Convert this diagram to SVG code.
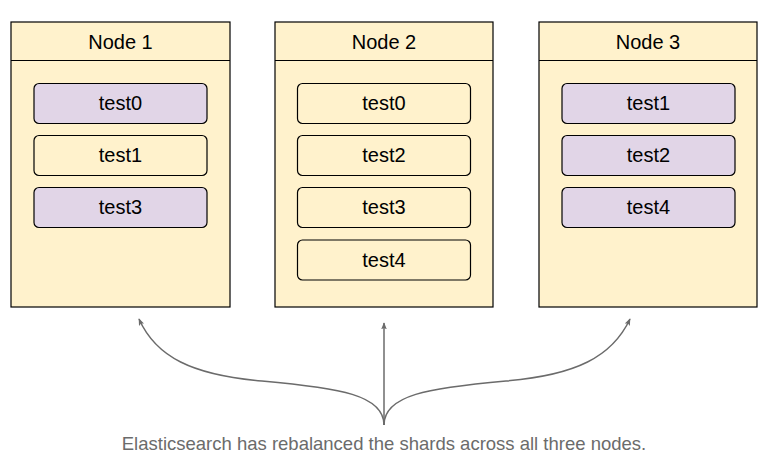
<svg xmlns="http://www.w3.org/2000/svg" width="770" height="467" viewBox="0 0 770 467">
<style>
.node{fill:#fff2cc;stroke:#000;stroke-width:1.2}
.hdr{fill:none;stroke:#000;stroke-width:1.2}
.shard{fill:#fff2cc;stroke:#000;stroke-width:1.2}
.shard.p{fill:#e1d5e7}
.t{font-family:"Liberation Sans",Arial,sans-serif;font-size:20px;fill:#000;text-anchor:middle}
.s{font-family:"Liberation Sans",Arial,sans-serif;font-size:20px;fill:#000;text-anchor:middle}
.arr{fill:none;stroke:#6b6b6b;stroke-width:1.5;marker-end:url(#ah)}
.cap{font-family:"Liberation Sans",Arial,sans-serif;font-size:18.5px;fill:#6b6b6b;text-anchor:middle}
</style>
<defs>
<marker id="ah" viewBox="0 0 10 10" refX="9" refY="5" markerWidth="7" markerHeight="7" orient="auto" markerUnits="userSpaceOnUse">
<path d="M0,1 L10,5 L0,9 L2,5 Z" fill="#6b6b6b"/>
</marker>
</defs>
<rect width="770" height="467" fill="#fff"/>
<g id="node1">
<rect class="node" x="11" y="22" width="219" height="285"/>
<line class="hdr" x1="11" y1="60.5" x2="230" y2="60.5"/>
<text class="t" x="120.5" y="49">Node 1</text>
<g id="node1-test0"><rect class="shard p" x="34" y="83.5" width="173" height="40" rx="5"/><text class="s" x="120.5" y="110">test0</text></g>
<g id="node1-test1"><rect class="shard" x="34" y="135.5" width="173" height="40" rx="5"/><text class="s" x="120.5" y="162">test1</text></g>
<g id="node1-test3"><rect class="shard p" x="34" y="187.5" width="173" height="40" rx="5"/><text class="s" x="120.5" y="214">test3</text></g>
</g>
<g id="node2">
<rect class="node" x="275" y="22" width="218" height="285"/>
<line class="hdr" x1="275" y1="60.5" x2="493" y2="60.5"/>
<text class="t" x="384" y="49">Node 2</text>
<g id="node2-test0"><rect class="shard" x="297.5" y="83.5" width="173" height="40" rx="5"/><text class="s" x="384" y="110">test0</text></g>
<g id="node2-test2"><rect class="shard" x="297.5" y="135.5" width="173" height="40" rx="5"/><text class="s" x="384" y="162">test2</text></g>
<g id="node2-test3"><rect class="shard" x="297.5" y="187.5" width="173" height="40" rx="5"/><text class="s" x="384" y="214">test3</text></g>
<g id="node2-test4"><rect class="shard" x="297.5" y="240" width="173" height="40" rx="5"/><text class="s" x="384" y="266.5">test4</text></g>
</g>
<g id="node3">
<rect class="node" x="539" y="22" width="218" height="285"/>
<line class="hdr" x1="539" y1="60.5" x2="757" y2="60.5"/>
<text class="t" x="648" y="49">Node 3</text>
<g id="node3-test1"><rect class="shard p" x="562" y="83.5" width="173" height="40" rx="5"/><text class="s" x="648.5" y="110">test1</text></g>
<g id="node3-test2"><rect class="shard p" x="562" y="135.5" width="173" height="40" rx="5"/><text class="s" x="648.5" y="162">test2</text></g>
<g id="node3-test4"><rect class="shard p" x="562" y="187.5" width="173" height="40" rx="5"/><text class="s" x="648.5" y="214">test4</text></g>
</g>
<g id="connectors">
<path class="arr" d="M384,425 C384,395 340,388 262,381 C192,375 156,357 139,319"/>
<path class="arr" d="M384,425 L384,323"/>
<path class="arr" d="M384,425 C384,395 428,388 506,381 C576,375 612,357 630,319"/>
</g>
<text class="cap" x="384" y="450">Elasticsearch has rebalanced the shards across all three nodes.</text>
</svg>
